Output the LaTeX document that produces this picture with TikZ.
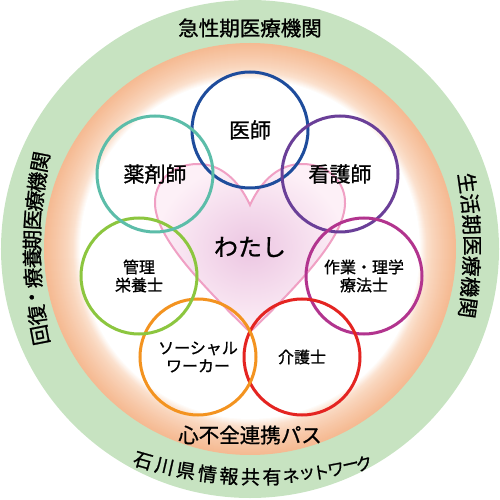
\documentclass[tikz,border=0pt]{standalone}
\usepackage{fontspec}
\setmainfont{Noto Sans CJK JP}[FakeBold=1.0]
\definecolor{ringgreen}{RGB}{199,227,193}
\definecolor{ringdark}{RGB}{245,186,146}
\definecolor{ringlight}{RGB}{252,230,214}
\definecolor{heartline}{RGB}{240,160,196}
\definecolor{heartin}{RGB}{236,198,226}
\definecolor{heartout}{RGB}{253,240,247}
\definecolor{cdoctor}{RGB}{30,76,156}
\definecolor{cnurse}{RGB}{106,63,152}
\definecolor{ctherapy}{RGB}{178,52,142}
\definecolor{ccare}{RGB}{228,36,33}
\definecolor{csocial}{RGB}{243,147,32}
\definecolor{cdiet}{RGB}{140,198,63}
\definecolor{cpharm}{RGB}{92,189,169}
\newcommand{\ringfont}{\fontsize{20.5}{20.5}\selectfont}
\begin{document}
\begin{tikzpicture}[x=1pt,y=1pt,
    member/.style={circle, draw, line width=3pt, minimum size=116pt, inner sep=0pt, align=center, font=\fontsize{16}{18}\selectfont},
    bigmember/.style={member, font=\fontsize{21}{21}\selectfont},
    ringlabel/.style={font=\ringfont, inner sep=0pt}]
        \useasboundingbox (-250,-251) rectangle (250,249);
        % rings
        \fill[ringgreen] (0,0) circle[radius=249];
        \foreach \i in {0,...,30} {
            \pgfmathtruncatemacro\pct{100*(1-\i/30)^0.7}
            \fill[ringdark!\pct!ringlight] (0,0) circle[radius=206-\i];
        }
        \foreach \i in {0,...,6} {
            \pgfmathtruncatemacro\pct{100-\i*100/6}
            \fill[ringlight!\pct!white] (0,0) circle[radius=176-\i];
        }
        % heart
        \shade[inner color=heartin, outer color=heartout] (0,44) .. controls (-12,70) and (-30,85) .. (-52,85) .. controls (-80,85) and (-96,65) .. (-95,45) .. controls (-94,15) and (-60,-25) .. (0,-83) .. controls (60,-25) and (94,15) .. (95,45) .. controls (96,65) and (80,85) .. (52,85) .. controls (30,85) and (12,70) .. (0,44) -- cycle;
        \draw[heartline, line width=2pt, line join=miter] (0,44) .. controls (-12,70) and (-30,85) .. (-52,85) .. controls (-80,85) and (-96,65) .. (-95,45) .. controls (-94,15) and (-60,-25) .. (0,-83) .. controls (60,-25) and (94,15) .. (95,45) .. controls (96,65) and (80,85) .. (52,85) .. controls (30,85) and (12,70) .. (0,44) -- cycle;
        \node[font=\fontsize{24}{24}\selectfont] (watashi) at (0,2) {わたし};
        % members
        \node[bigmember, draw=cdoctor] (doctor) at (0,119) {医師};
        \node[bigmember, draw=cnurse] (nurse) at (90,75) {看護師};
        \node[member, draw=ctherapy] (therapy) at (114,-27) {作業・理学\\療法士};
        \node[member, draw=ccare] (care) at (52,-108) {介護士};
        \node[member, draw=csocial] (social) at (-52,-108) {ソーシャル\\ワーカー};
        \node[member, draw=cdiet] (diet) at (-111,-27) {管理\\栄養士};
        \node[bigmember, draw=cpharm] (pharm) at (-95,75) {薬剤師};
        % ring texts
        \node[ringlabel] (acute) at (0,221) {急性期医療機関};
        \node[ringlabel] (hfpath) at (0,-186) {心不全連携パス};
        \foreach \ch/\yy [count=\i] in {回/-86, 復/-66, ・/-48, 療/-29, 養/-9, 期/9, 医/29, 療/48, 機/67, 関/87} {
            \pgfmathsetmacro\ang{180-asin(\yy/450)}
            \node[ringlabel, rotate=\ang-90] (west\i) at ([shift={(232,0)}]\ang:450) {\ch};
        }
        \foreach \ch/\yy [count=\i] in {生/66, 活/45.2, 期/24.4, 医/3.6, 療/-17.2, 機/-38, 関/-58.8} {
            \pgfmathsetmacro\ang{asin((\yy-3.5)/450)}
            \node[ringlabel, rotate=\ang-90] (east\i) at ([shift={(-228,3.5)}]\ang:450) {\ch};
        }
        \foreach \ch/\xx/\fs [count=\i] in {石/-107/19, 川/-85.5/19, 県/-64/19, 情/-42.5/19, 報/-21/19, 共/0.5/19, 有/22/19, ネ/41/17, ッ/57/17, ト/71/17, ワ/86/17, ー/101/17, ク/114/17} {
            \pgfmathsetmacro\ang{270+asin((\xx-8)/420)}
            \node[ringlabel, font=\fontsize{\fs}{\fs}\selectfont, rotate=\ang+90] (net\i) at ([shift={(8,192)}]\ang:420) {\ch};
        }
\end{tikzpicture}
\end{document}
